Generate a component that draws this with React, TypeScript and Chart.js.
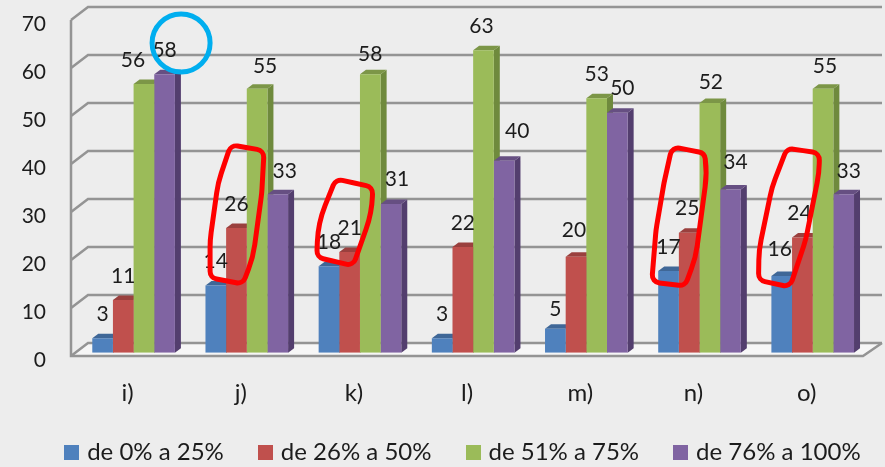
import React, { useEffect, useRef } from "react";
import { Chart, registerables } from "chart.js";

Chart.register(...registerables);

const categories = ["i)", "j)", "k)", "l)", "m)", "n)", "o)"];
const yTicks = [0, 10, 20, 30, 40, 50, 60, 70];
const seriesNames = ["de 0% a 25%", "de 26% a 50%", "de 51% a 75%", "de 76% a 100%"];
const low = [3, 14, 18, 3, 5, 17, 16];
const lowMid = [11, 26, 21, 22, 20, 25, 24];
const highMid = [56, 55, 58, 63, 53, 52, 55];
const high = [58, 33, 31, 40, 50, 34, 33];

const W = 885;
const H = 467;
const FONT = "Lato, 'Open Sans', sans-serif";
const LEG_FONT = 24;
const LEG_PAD = 38.5;
const PLOT_BOTTOM = 352.7;

const fronts = ["#4F81BD", "#C0504D", "#9BBB59", "#8064A2"];
const tops = ["#3F6797", "#9A403E", "#7C9647", "#664F82"];
const sides = ["#2F4D71", "#73302E", "#6F8A3D", "#533E6E"];

// hand placed label nudges from the reference: [series, category, dx, dy]
const labelNudges = [
  [2, 0, -11, 0], [2, 1, 8, 2], [3, 1, 7, 1], [2, 2, 0, 4], [3, 2, 6, -1],
  [3, 3, 13, -5], [0, 4, 0, 5], [3, 4, 5, 0], [2, 5, 1, 3], [3, 5, 5, -3],
  [2, 6, 2, 2], [3, 6, 5, 1], [0, 6, -2, -3], [1, 6, -3, 0], [1, 5, -2, 0],
  [1, 4, -2, -2], [2, 3, -2, 0],
];

// freehand callouts: category index, then [px offset from group centre, value]
const redLoops: [number, number[][]][] = [
  [1, [[-16, 43.3], [17.3, 42.1], [15, 33.3], [6.3, 19.9], [-4, 14.3], [-36.7, 15.6], [-36.7, 23.5], [-28.7, 35.4]]],
  [2, [[-24.2, 36.2], [12.8, 34.5], [11.8, 29.1], [-6.9, 18.1], [-43.2, 19.9], [-41.9, 27]]],
  [5, [[-27.5, 42.9], [5, 41.6], [7.5, 37.5], [-3.8, 19.9], [-14.5, 13.9], [-47.8, 14.7], [-43.5, 25.6], [-35.5, 35.4]]],
  [6, [[-25.7, 42.6], [6.8, 41.6], [6.3, 37.4], [-7, 23.5], [-22.7, 13.7], [-54.2, 15.1], [-53.7, 21.4], [-40.7, 34.5]]],
];
const blueRing = { category: 0, dx: 47.5, value: 64.5, radius: 29 };

function swatch(color: string) {
  const c = document.createElement("canvas");
  c.width = 15;
  c.height = 15;
  const g = c.getContext("2d") as CanvasRenderingContext2D;
  g.fillStyle = color;
  g.fillRect(0, 0, 15, 15);
  return c;
}

const scene = {
  id: "scene",
  beforeDraw(chart: any) {
    const { ctx } = chart;
    ctx.save();
    ctx.fillStyle = "#EDEDED";
    ctx.fillRect(0, 0, W, H);
    ctx.restore();
  },
  beforeLayout(chart: any) {
    // the legend floats over the bottom margin and reserves no layout space
    const lg = chart.legend;
    if (!lg.__patched) {
      const fit = lg.fit;
      lg.fit = function () {
        fit.call(this);
        this.height = 0;
      };
      lg.__patched = true;
    }
  },
  afterLayout(chart: any) {
    const lg = chart.legend;
    lg.top = 452 - LEG_PAD - LEG_FONT / 2;
    lg.bottom = lg.top + LEG_FONT + 2 * LEG_PAD;
    lg.left += 30;
    lg.right += 30;
  },
  beforeDatasetsDraw(chart: any) {
    const { ctx, chartArea, scales } = chart;
    const y = scales.y;
    const fx = chartArea.left - 6;
    const bx = chartArea.left + 11;
    const fxR = chartArea.right - 6.3;
    const bxR = chartArea.right + 12.7;
    const frontOff = 3.3;
    const backOff = -9.7;
    const zero = y.getPixelForValue(0);
    ctx.save();
    ctx.fillStyle = "#F6F6F6";
    ctx.beginPath();
    ctx.moveTo(fx, zero + frontOff);
    ctx.lineTo(fxR, zero + frontOff);
    ctx.lineTo(bxR, zero + backOff);
    ctx.lineTo(bx, zero + backOff);
    ctx.closePath();
    ctx.fill();
    ctx.strokeStyle = "#949494";
    ctx.lineWidth = 2.5;
    ctx.lineJoin = "miter";
    for (const t of yTicks) {
      const p = y.getPixelForValue(t);
      ctx.beginPath();
      ctx.moveTo(fx, p + frontOff);
      ctx.lineTo(bx, p + backOff);
      ctx.lineTo(bxR, p + backOff);
      ctx.stroke();
    }
    ctx.beginPath();
    ctx.moveTo(fx, y.getPixelForValue(70) + frontOff);
    ctx.lineTo(fx, zero + frontOff);
    ctx.lineTo(fxR, zero + frontOff);
    ctx.lineTo(bxR, zero + backOff);
    ctx.stroke();

    const dx = 6;
    const dy = 4.5;
    chart.data.datasets.forEach((_: any, s: number) => {
      chart.getDatasetMeta(s).data.forEach((bar: any) => {
        const l = bar.x - bar.width / 2;
        const r = bar.x + bar.width / 2;
        ctx.fillStyle = sides[s];
        ctx.beginPath();
        ctx.moveTo(r, bar.y);
        ctx.lineTo(r + dx, bar.y - dy);
        ctx.lineTo(r + dx, bar.base - dy);
        ctx.lineTo(r, bar.base);
        ctx.closePath();
        ctx.fill();
        ctx.fillStyle = tops[s];
        ctx.beginPath();
        ctx.moveTo(l, bar.y);
        ctx.lineTo(l + dx, bar.y - dy);
        ctx.lineTo(r + dx, bar.y - dy);
        ctx.lineTo(r, bar.y);
        ctx.closePath();
        ctx.fill();
      });
    });
    ctx.restore();
  },
  afterDatasetsDraw(chart: any) {
    const { ctx, scales } = chart;
    ctx.save();
    ctx.font = `21px ${FONT}`;
    ctx.fillStyle = "#1C1C1C";
    ctx.textAlign = "center";
    ctx.textBaseline = "middle";
    chart.data.datasets.forEach((ds: any, s: number) => {
      chart.getDatasetMeta(s).data.forEach((bar: any, c: number) => {
        const n = labelNudges.find((e) => e[0] === s && e[1] === c);
        ctx.fillText(String(ds.data[c]), bar.x + (n ? n[2] : 0), bar.y - 24 + (n ? n[3] : 0));
      });
    });

    ctx.strokeStyle = "#FF0000";
    ctx.lineWidth = 5;
    ctx.lineJoin = "round";
    for (const [cat, pts] of redLoops) {
      const cx = scales.x.getPixelForValue(cat);
      const p = pts.map(([ox, v]) => [cx + ox, scales.y.getPixelForValue(v)]);
      const n = p.length;
      ctx.beginPath();
      ctx.moveTo((p[0][0] + p[1][0]) / 2, (p[0][1] + p[1][1]) / 2);
      for (let i = 1; i <= n; i++) {
        const prev = p[i - 1];
        const a = p[i % n];
        const b = p[(i + 1) % n];
        const a1 = Math.atan2(a[1] - prev[1], a[0] - prev[0]);
        const a2 = Math.atan2(b[1] - a[1], b[0] - a[0]);
        let turn = Math.abs(a2 - a1);
        if (turn > Math.PI) turn = 2 * Math.PI - turn;
        // sharp turns are the loop's corners, shallow ones its bowed sides
        ctx.arcTo(a[0], a[1], b[0], b[1], turn > 0.8 ? 8 : 110);
      }
      ctx.closePath();
      ctx.stroke();
    }

    ctx.strokeStyle = "#00AEEF";
    ctx.lineWidth = 5;
    ctx.beginPath();
    ctx.arc(
      scales.x.getPixelForValue(blueRing.category) + blueRing.dx,
      scales.y.getPixelForValue(blueRing.value),
      blueRing.radius,
      0,
      Math.PI * 2
    );
    ctx.stroke();
    ctx.restore();
  },
};

export default function App() {
  const ref = useRef<HTMLCanvasElement>(null);
  useEffect(() => {
    document.body.style.margin = "0";
    document.body.style.background = "#EDEDED";
    const make = (label: string, data: number[], color: string) => ({
      label,
      data,
      backgroundColor: color,
      borderWidth: 0,
      categoryPercentage: 0.73,
      barPercentage: 1,
    });
    const chart = new Chart(ref.current as HTMLCanvasElement, {
      type: "bar",
      data: {
        labels: categories,
        datasets: [
          make(seriesNames[0], low, fronts[0]),
          make(seriesNames[1], lowMid, fronts[1]),
          make(seriesNames[2], highMid, fronts[2]),
          make(seriesNames[3], high, fronts[3]),
        ],
      },
      options: {
        responsive: false,
        animation: false,
        layout: { padding: { left: 0, top: 16.7, right: 15.7, bottom: 0 } },
        plugins: {
          tooltip: { enabled: false },
          legend: {
            position: "bottom",
            labels: {
              usePointStyle: true,
              pointStyleWidth: 6.5,
              boxHeight: 15,
              padding: LEG_PAD,
              color: "#1C1C1C",
              font: { family: FONT, size: LEG_FONT },
              generateLabels: (c: any) =>
                c.data.datasets.map((ds: any, i: number) => ({
                  text: ds.label,
                  fontColor: "#1C1C1C",
                  fillStyle: ds.backgroundColor,
                  strokeStyle: ds.backgroundColor,
                  lineWidth: 0,
                  pointStyle: swatch(ds.backgroundColor),
                  datasetIndex: i,
                  hidden: false,
                })),
            },
          },
        },
        scales: {
          x: {
            grid: { display: false },
            border: { display: false },
            afterFit: (s: any) => {
              s.height = H - PLOT_BOTTOM;
              s.paddingLeft = 0;
              s.paddingRight = 0;
            },
            ticks: {
              color: "#1C1C1C",
              font: { family: FONT, size: 24 },
              padding: 18,
              labelOffset: -6,
              maxRotation: 0,
              autoSkip: false,
            },
          },
          y: {
            min: 0,
            max: 70,
            grid: { display: false, drawTicks: false },
            border: { display: false },
            afterFit: (s: any) => {
              s.width = 77;
              s.paddingTop = 0;
              s.paddingBottom = 0;
            },
            ticks: {
              stepSize: 10,
              color: "#1C1C1C",
              font: { family: FONT, size: 21 },
              padding: 31,
              labelOffset: 8,
            },
          },
        },
      },
      plugins: [scene],
    } as any);
    return () => chart.destroy();
  }, []);
  return <canvas ref={ref} width={W} height={H} style={{ display: "block" }} />;
}
